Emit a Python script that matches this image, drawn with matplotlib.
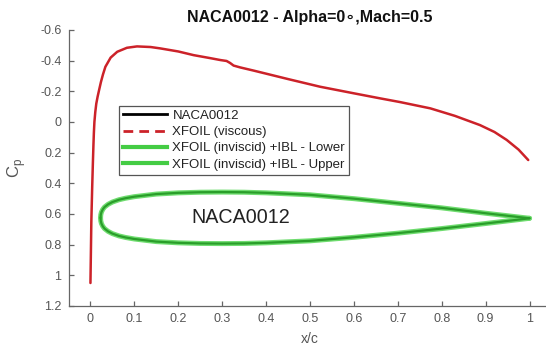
import matplotlib
matplotlib.use("Agg")
import matplotlib.pyplot as plt
from matplotlib.lines import Line2D

plt.rcParams['font.family'] = ['Liberation Sans', 'DejaVu Sans']

# XFOIL viscous Cp distribution
x_visc = [0, 0.001, 0.002, 0.004, 0.0055, 0.0068, 0.0078, 0.009, 0.011, 0.0133, 0.0163,
          0.0198, 0.0238, 0.0285, 0.034, 0.046, 0.061, 0.083, 0.106, 0.137, 0.159, 0.2,
          0.235, 0.27, 0.296, 0.31, 0.318, 0.326, 0.341, 0.372, 0.45, 0.523, 0.6, 0.66,
          0.705, 0.774, 0.83, 0.887, 0.92, 0.948, 0.975, 0.997]
cp_visc = [1.05, 0.85, 0.65, 0.42, 0.27, 0.15, 0.07, 0.0, -0.065, -0.12, -0.165,
           -0.21, -0.26, -0.31, -0.36, -0.42, -0.458, -0.484, -0.493, -0.489, -0.48, -0.46,
           -0.436, -0.418, -0.404, -0.398, -0.385, -0.368, -0.356, -0.335, -0.28, -0.23,
           -0.187, -0.154, -0.13, -0.089, -0.04, 0.02, 0.065, 0.117, 0.18, 0.248]

# airfoil outline drawn in the Cp axes
x_af = [0.023, 0.0235, 0.025, 0.028, 0.032, 0.04, 0.05, 0.065, 0.08, 0.1, 0.15, 0.2,
        0.25, 0.3, 0.35, 0.4, 0.5, 0.6, 0.7, 0.8, 0.9, 1.0]
af_upper = [0.625, 0.605, 0.588, 0.57, 0.555, 0.537, 0.522, 0.507, 0.497, 0.487, 0.47,
            0.462, 0.458, 0.457, 0.458, 0.462, 0.475, 0.5, 0.53, 0.56, 0.595, 0.628]
af_lower = [0.625, 0.645, 0.662, 0.68, 0.695, 0.713, 0.728, 0.743, 0.753, 0.763, 0.78,
            0.788, 0.792, 0.793, 0.792, 0.788, 0.775, 0.752, 0.725, 0.695, 0.662, 0.628]

x_ticks = [0, 0.1, 0.2, 0.3, 0.4, 0.5, 0.6, 0.7, 0.8, 0.9, 1]
y_ticks = [-0.6, -0.4, -0.2, 0, 0.2, 0.4, 0.6, 0.8, 1, 1.2]
legend_labels = ['NACA0012', 'XFOIL (viscous)', 'XFOIL (inviscid) +IBL - Lower',
                 'XFOIL (inviscid) +IBL - Upper']

fig = plt.figure(figsize=(5.46, 3.48), dpi=100)
ax = fig.add_axes([68.5 / 546, 42 / 348, 483 / 546, 276 / 348])

red = '#cc2229'
glow = '#6fdc6f'
core = '#2a9e2a'

ax.plot(x_visc, cp_visc, color=red, lw=1.8, solid_capstyle='round',
        solid_joinstyle='round', zorder=3)
for ys in (af_upper, af_lower):
    ax.plot(x_af, ys, color=glow, lw=3.6, solid_capstyle='round',
            solid_joinstyle='round', zorder=2)
    ax.plot(x_af, ys, color=core, lw=1.6, solid_capstyle='round',
            solid_joinstyle='round', zorder=2.5)

ax.text(0.343, 0.625, 'NACA0012', fontsize=14.2, color='#222222', ha='center', va='center')

ax.set_xlim(-0.05, 1.05)
ax.set_ylim(1.2, -0.6)
ax.set_xticks(x_ticks)
ax.set_xticklabels([f'{v:g}' for v in x_ticks])
ax.set_yticks(y_ticks)
ax.set_yticklabels([f'{v:g}' for v in y_ticks])

grey = '#555555'
for s in ('top', 'right'):
    ax.spines[s].set_visible(False)
for s in ('left', 'bottom'):
    ax.spines[s].set_color('#666666')
    ax.spines[s].set_linewidth(0.9)
ax.tick_params(direction='in', length=3.5, width=0.9, colors='#666666',
               labelcolor=grey, labelsize=9, pad=5)

ax.set_xlabel('x/c', fontsize=10, color=grey, labelpad=5)
ax.set_ylabel('C$_\\mathregular{p}$', fontsize=12, color=grey, labelpad=9)
ax.set_title('NACA0012 - Alpha=0\u2218,Mach=0.5', fontsize=11.5, fontweight='bold',
             color='#111111', pad=6)

handles = [Line2D([], [], color='black', lw=2),
           Line2D([], [], color=red, lw=2, ls=(0, (3.5, 2.2))),
           Line2D([], [], color='#44cc44', lw=3),
           Line2D([], [], color='#44cc44', lw=3)]
leg = ax.legend(handles, legend_labels, loc='upper left', bbox_to_anchor=(0.1046, 0.725),
                borderaxespad=0, fontsize=9.5, handlelength=3.35, handletextpad=0.4,
                labelspacing=0.3, borderpad=0.3, fancybox=False, framealpha=1,
                edgecolor='#555555')
leg.get_frame().set_linewidth(0.9)
for t in leg.get_texts():
    t.set_color('#222222')

fig.savefig('out.png', dpi=100)
